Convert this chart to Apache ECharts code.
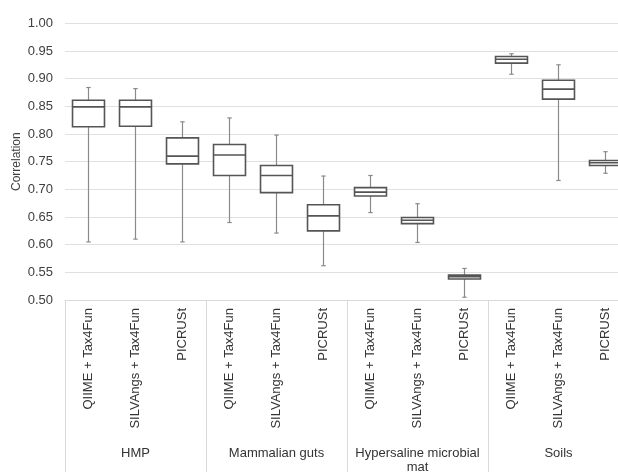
<!DOCTYPE html>
<html>
<head>
<meta charset="utf-8">
<script src="https://cdn.jsdelivr.net/npm/echarts@6/dist/echarts.min.js"></script>
<style>
html,body{margin:0;padding:0;background:#fff;}
#chart{width:618px;height:472px;}
</style>
</head>
<body>
<div id="chart"></div>
<script>
var categories = [
  'QIIME + Tax4Fun','SILVAngs + Tax4Fun','PICRUSt',
  'QIIME + Tax4Fun','SILVAngs + Tax4Fun','PICRUSt',
  'QIIME + Tax4Fun','SILVAngs + Tax4Fun','PICRUSt',
  'QIIME + Tax4Fun','SILVAngs + Tax4Fun','PICRUSt'
];
var groups = ['HMP','Mammalian guts','Hypersaline microbial\nmat','Soils'];
var mins    = [0.605,0.610,0.605, 0.640,0.621,0.562, 0.658,0.604,0.505, 0.908,0.716,0.729];
var q1s     = [0.813,0.814,0.746, 0.725,0.694,0.625, 0.688,0.638,0.538, 0.928,0.863,0.743];
var medians = [0.849,0.849,0.760, 0.762,0.725,0.652, 0.695,0.644,0.542, 0.935,0.881,0.748];
var q3s     = [0.861,0.861,0.793, 0.781,0.743,0.672, 0.703,0.649,0.545, 0.940,0.897,0.752];
var maxs    = [0.884,0.882,0.822, 0.829,0.798,0.724, 0.725,0.674,0.557, 0.945,0.925,0.768];
var yTicks = {min:0.5, max:1.0, interval:0.05};

var data = categories.map(function(c, i){
  return [i, mins[i], q1s[i], medians[i], q3s[i], maxs[i]];
});

var chart = echarts.init(document.getElementById('chart'), null, {renderer:'canvas'});
var option = {
  animation:false,
  backgroundColor:'#ffffff',
  grid:{left:65, top:23.3, width:564, height:276.7, containLabel:false, outerBoundsMode:'none'},
  xAxis:[{
    type:'category',
    data:categories,
    boundaryGap:true,
    axisLine:{show:true, lineStyle:{color:'#d9d9d9', width:1}},
    axisTick:{show:true, length:175, interval:function(index){ return index % 3 === 0; }, lineStyle:{color:'#d9d9d9', width:1}},
    axisLabel:{interval:0, rotate:90, margin:8, fontSize:13, color:'#333333', fontFamily:'Liberation Sans, Arial, sans-serif'},
    splitLine:{show:false}
  },{
    type:'category',
    data:groups,
    position:'bottom',
    offset:140,
    boundaryGap:true,
    axisLine:{show:false},
    axisTick:{show:false},
    axisLabel:{interval:0, margin:6, fontSize:13, lineHeight:14, color:'#333333', fontFamily:'Liberation Sans, Arial, sans-serif'},
    splitLine:{show:false}
  }],
  yAxis:{
    type:'value',
    min:yTicks.min, max:yTicks.max, interval:yTicks.interval,
    name:'Correlation',
    nameLocation:'middle',
    nameGap:42,
    nameMoveOverlap:false,
    nameTextStyle:{fontSize:12, color:'#404040', fontFamily:'Liberation Sans, Arial, sans-serif'},
    axisLine:{show:false},
    axisTick:{show:false},
    axisLabel:{margin:12, fontSize:13, color:'#404040', fontFamily:'Liberation Sans, Arial, sans-serif',
      formatter:function(v){ return v.toFixed(2); }},
    splitLine:{show:true, lineStyle:{color:'#e0e0e0', width:1}}
  },
  series:[{
    type:'custom',
    xAxisIndex:0,
    silent:true,
    clip:false,
    encode:{x:0, y:[1,2,3,4,5]},
    data:data,
    renderItem:function(params, api){
      var i = api.value(0);
      var pMin = api.coord([i, api.value(1)]);
      var pQ1 = api.coord([i, api.value(2)]);
      var pMed = api.coord([i, api.value(3)]);
      var pQ3 = api.coord([i, api.value(4)]);
      var pMax = api.coord([i, api.value(5)]);
      var cx = pMin[0];
      var bw = api.size([1,0])[0]*0.68;
      var half = bw/2;
      var cap = 2.2;
      var wStyle = {stroke:'#8a8a8a', lineWidth:1.2};
      var bStyle = {stroke:'#555555', lineWidth:1.6, fill:'#ffffff'};
      return {
        type:'group',
        children:[
          {type:'line', shape:{x1:cx, y1:pQ3[1], x2:cx, y2:pMax[1]}, style:wStyle},
          {type:'line', shape:{x1:cx, y1:pQ1[1], x2:cx, y2:pMin[1]}, style:wStyle},
          {type:'line', shape:{x1:cx-cap, y1:pMax[1], x2:cx+cap, y2:pMax[1]}, style:wStyle},
          {type:'line', shape:{x1:cx-cap, y1:pMin[1], x2:cx+cap, y2:pMin[1]}, style:wStyle},
          {type:'rect', shape:{x:cx-half, y:pQ3[1], width:bw, height:pQ1[1]-pQ3[1]}, style:bStyle},
          {type:'line', shape:{x1:cx-half, y1:pMed[1], x2:cx+half, y2:pMed[1]}, style:{stroke:'#555555', lineWidth:1.6}}
        ]
      };
    }
  }]
};
chart.setOption(option);
</script>
</body>
</html>
